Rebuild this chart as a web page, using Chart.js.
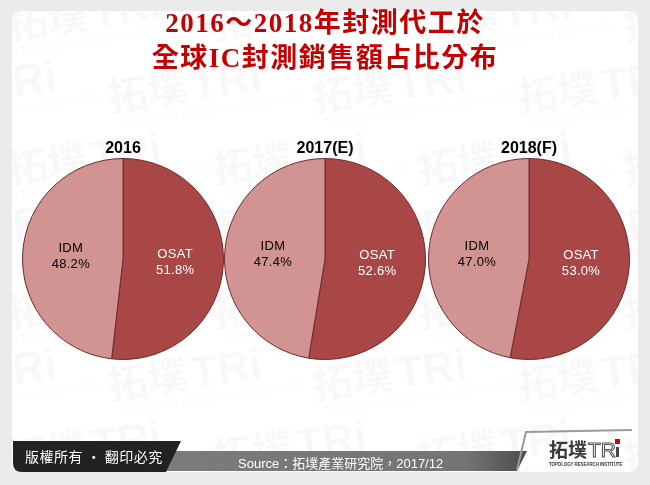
<!DOCTYPE html>
<html lang="zh-Hant">
<head>
<meta charset="utf-8">
<title>2016～2018年封測代工於全球IC封測銷售額占比分布</title>
<script src="https://cdn.jsdelivr.net/npm/chart.js@4/dist/chart.umd.min.js"></script>
<style>
  html, body { margin: 0; padding: 0; }
  body { width: 650px; height: 485px; background: #ebebeb; position: relative; overflow: hidden;
         font-family: "Liberation Sans", Arial, sans-serif; }
  #bg { position: absolute; left: 0; top: 0; }
  .title { position: absolute; left: 0; width: 650px; text-align: center; color: #c40000;
           font-family: "Liberation Serif", "Noto Sans CJK TC", serif; font-weight: bold;
           font-size: 27px; line-height: 30px; letter-spacing: 1.5px; }
  .year { position: absolute; width: 200px; text-align: center; font-weight: bold;
          font-size: 16px; color: #000; top: 139px; }
  .pie { position: absolute; top: 158px; }
  .foot { position: absolute; color: #fff; white-space: nowrap; }
</style>
</head>
<body>
<canvas id="bg" width="650" height="485"></canvas>

<div class="title" style="top:8px">2016～2018年封測代工於</div>
<div class="title" style="top:43px">全球IC封測銷售額占比分布</div>

<div class="year" style="left:23px">2016</div>
<div class="year" style="left:225px">2017(E)</div>
<div class="year" style="left:429px">2018(F)</div>

<canvas class="pie" id="pie0" width="202" height="202" style="left:22px"></canvas>
<canvas class="pie" id="pie1" width="202" height="202" style="left:224px"></canvas>
<canvas class="pie" id="pie2" width="202" height="202" style="left:428px"></canvas>

<div class="foot" style="left:25px; top:446px; font-family:'Noto Sans CJK TC',sans-serif; font-size:14px; letter-spacing:0.5px">版權所有 · 翻印必究</div>
<div class="foot" style="left:238px; top:453px; font-family:'Liberation Sans','Noto Sans CJK TC',sans-serif; font-size:13px">Source：拓墣產業研究院，2017/12</div>

<script>
const years = ['2016', '2017(E)', '2018(F)'];
const categories = ['OSAT', 'IDM'];
const osatShare = [51.8, 52.6, 53.0];
const idmShare = [48.2, 47.4, 47.0];
const sliceColors = ['#a94646', '#d29393'];
const labelColors = ['#ffffff', '#000000'];

// card, watermark and footer decoration
(function drawBackground() {
  const c = document.getElementById('bg').getContext('2d');
  function rr(x, y, w, h, r) {
    c.beginPath();
    c.moveTo(x + r, y); c.lineTo(x + w - r, y); c.quadraticCurveTo(x + w, y, x + w, y + r);
    c.lineTo(x + w, y + h - r); c.quadraticCurveTo(x + w, y + h, x + w - r, y + h);
    c.lineTo(x + r, y + h); c.quadraticCurveTo(x, y + h, x, y + h - r);
    c.lineTo(x, y + r); c.quadraticCurveTo(x, y, x + r, y); c.closePath();
  }
  rr(12, 11, 626, 461, 10);
  c.fillStyle = '#ffffff';
  c.fill();

  // faint watermark
  c.save();
  rr(12, 11, 626, 461, 10);
  c.clip();
  c.fillStyle = 'rgba(0,0,0,0.028)';
  for (let row = 0; row < 7; row++) {
    for (let col = -1; col < 4; col++) {
      const x = col * 205 + (row % 2) * 100 + 10;
      const y = row * 72 + 40;
      c.save();
      c.translate(x, y);
      c.rotate(-0.14);
      c.font = 'bold 40px "Noto Sans CJK TC"';
      c.fillText('拓墣', 0, 0);
      c.font = 'bold 44px "Liberation Sans"';
      c.fillText('TRi', 84, 0);
      c.font = '11px "Liberation Sans"';
      c.fillText('TOPOLOGY RESEARCH INSTITUTE', 8, 16);
      c.restore();
    }
  }
  c.restore();

  // gray source band
  const g = c.createLinearGradient(150, 0, 522, 0);
  g.addColorStop(0, '#7c7c7c');
  g.addColorStop(0.85, '#747474');
  g.addColorStop(1, '#4e4e4e');
  c.fillStyle = g;
  c.beginPath();
  c.moveTo(150, 451); c.lineTo(527, 451); c.lineTo(517, 471); c.lineTo(150, 471); c.closePath();
  c.fill();

  // black copyright tab
  c.fillStyle = '#222222';
  c.beginPath();
  c.moveTo(13, 441); c.lineTo(181, 441); c.lineTo(166, 472); c.lineTo(22, 472);
  c.quadraticCurveTo(13, 472, 13, 463); c.closePath();
  c.fill();

  // logo frame line
  c.strokeStyle = '#9a9a9a';
  c.lineWidth = 2;
  c.beginPath();
  c.moveTo(517, 470); c.lineTo(526, 432); c.lineTo(632, 430);
  c.stroke();

  // logo
  c.fillStyle = '#3a3a3a';
  c.font = 'bold 19px "Noto Sans CJK TC"';
  c.textBaseline = 'alphabetic';
  c.fillText('拓墣', 549, 457);
  c.strokeStyle = '#555555';
  c.lineWidth = 1.1;
  c.font = '21px "Liberation Sans"';
  c.strokeText('TR', 588, 457);
  c.fillStyle = '#444444';
  c.fillRect(616, 447, 3, 10);
  c.fillStyle = '#e00000';
  c.fillRect(615, 439, 5, 5);
  c.save();
  c.fillStyle = '#333333';
  c.font = 'bold 6px "Liberation Sans"';
  c.translate(549, 466);
  c.scale(0.72, 1);
  c.fillText('TOPOLOGY RESEARCH INSTITUTE', 0, 0);
  c.restore();
})();

const sliceLabels = {
  id: 'sliceLabels',
  afterDatasetsDraw(chart) {
    const ctx = chart.ctx;
    const meta = chart.getDatasetMeta(0);
    const values = chart.data.datasets[0].data;
    ctx.save();
    ctx.font = '13px "Liberation Sans", Arial, sans-serif';
    ctx.letterSpacing = '0.3px';
    ctx.textAlign = 'center';
    ctx.textBaseline = 'middle';
    meta.data.forEach(function (arc, i) {
      const mid = (arc.startAngle + arc.endAngle) / 2;
      const d = arc.outerRadius * 0.52;
      const x = arc.x + Math.cos(mid) * d;
      const y = arc.y + Math.sin(mid) * d;
      ctx.fillStyle = labelColors[i];
      ctx.fillText(chart.data.labels[i], x, y - 8);
      ctx.fillText(values[i].toFixed(1) + '%', x, y + 8);
    });
    ctx.restore();
  }
};

years.forEach(function (year, k) {
  new Chart(document.getElementById('pie' + k), {
    type: 'pie',
    data: {
      labels: categories,
      datasets: [{
        data: [osatShare[k], idmShare[k]],
        backgroundColor: sliceColors,
        borderColor: '#6e2a2a',
        borderWidth: 1
      }]
    },
    options: {
      responsive: false,
      animation: false,
      layout: { padding: 0 },
      plugins: {
        legend: { display: false },
        tooltip: { enabled: false },
        title: { display: false }
      }
    },
    plugins: [sliceLabels]
  });
});
</script>
</body>
</html>
